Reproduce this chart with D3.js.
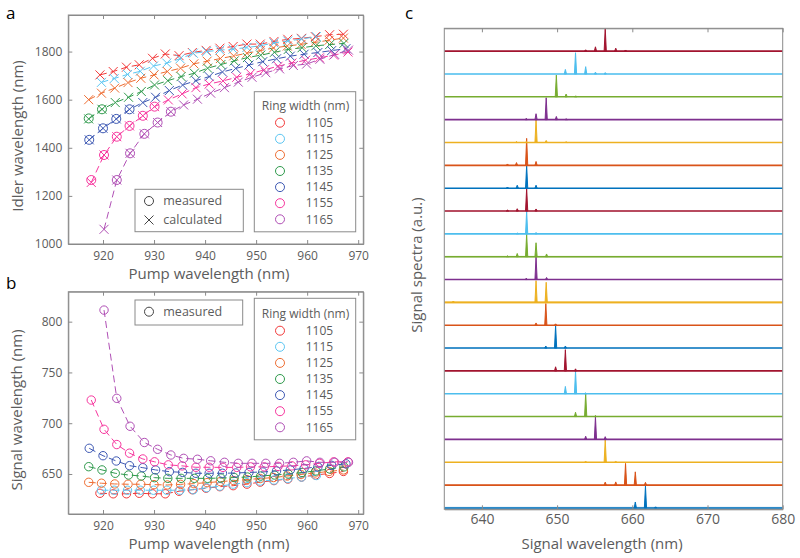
<!DOCTYPE html>
<html><head><meta charset="utf-8">
<script src="https://cdn.jsdelivr.net/npm/d3@7"></script>
<style>body{margin:0;background:#fff} svg{font-family:"Open Sans","Noto Sans",sans-serif;display:block}</style>
</head><body><svg width="800" height="558"></svg>
<script>
// ---------- DATA ----------
const ringWidths = [1105, 1115, 1125, 1135, 1145, 1155, 1165];
const ringColors = ["#f23a3a", "#5cc6f2", "#ee6d32", "#2f9a4c", "#3d58b3", "#f7369e", "#b04fb5"];

const pump1105 = [919.4, 922.0, 924.6, 927.1, 929.7, 932.2, 934.9, 937.5, 940.2, 942.9, 945.5, 948.2, 950.8, 953.5, 956.2, 958.9, 961.6, 964.4, 967.1];
const signal1105 = [631, 630.5, 630.5, 631, 630.5, 630.5, 633, 634.5, 636, 637.5, 638.5, 640, 642, 643.5, 645, 647, 649, 650.5, 652.5];
const idlerCalc1105 = [1703, 1717, 1735, 1745, 1772, 1790, 1783, 1796, 1805, 1814, 1821, 1831, 1831, 1842, 1851, 1855, 1862, 1870, 1872];
const idlerMeas1105 = [];

const pump1115 = [919.7, 922.2, 924.8, 927.3, 929.9, 932.5, 935.1, 937.7, 940.3, 942.9, 945.5, 948.2, 950.8, 953.5, 956.2, 958.9, 961.8];
const signal1115 = [634, 634, 634, 634, 634, 634, 634, 634.5, 636.5, 638, 640, 641.5, 643, 644, 645.5, 647, 648.5];
const idlerCalc1115 = [1672, 1688, 1705, 1718, 1740, 1752, 1770, 1793, 1800, 1806, 1810, 1817, 1824, 1836, 1844, 1852, 1862];
const idlerMeas1115 = [];

const pump1125 = [917.2, 919.7, 922.3, 924.9, 927.4, 930.0, 932.6, 935.2, 937.8, 940.4, 943.0, 945.6, 948.2, 950.8, 953.4, 956.1, 958.8, 961.5, 964.3, 967.1];
const signal1125 = [641.8, 640.9, 640.2, 639.9, 639.9, 639.5, 639.2, 639.8, 640.5, 641.5, 642.5, 643.5, 644.5, 645.5, 646.5, 648, 649.5, 651, 652.5, 654];
const idlerCalc1125 = [1600, 1627, 1648, 1671, 1689, 1703, 1717, 1731, 1749, 1760, 1771, 1782, 1793, 1804, 1815, 1823, 1830, 1838, 1847, 1856];
const idlerMeas1125 = [];

const pump1135 = [917.2, 919.8, 922.4, 925.0, 927.5, 930.1, 932.7, 935.3, 937.9, 940.5, 943.1, 945.7, 948.3, 950.9, 953.6, 956.3, 959.0, 961.7, 964.4, 967.2];
const signal1135 = [657.2, 654, 650.7, 649, 648, 646.4, 645.7, 645.7, 645.7, 645.7, 646, 646.5, 647, 648, 649, 650, 651.5, 653, 655, 657];
const idlerCalc1135 = [1520, 1560, 1588, 1610, 1634, 1661, 1679, 1696, 1710, 1731, 1746, 1761, 1775, 1785, 1797, 1809, 1816, 1824, 1829, 1834];
const idlerMeas1135 = [1522, 1560];

const pump1145 = [917.3, 920.0, 922.6, 925.2, 927.8, 930.3, 933.0, 935.6, 938.2, 940.8, 943.4, 946.0, 948.6, 951.3, 954.0, 956.7, 959.4, 962.1, 964.8, 967.6];
const signal1145 = [675.3, 668, 662.8, 658.2, 656.2, 654, 652.3, 651.6, 650.7, 650.7, 650.7, 651, 651.5, 652, 653, 654, 655.5, 657, 658.5, 660];
const idlerCalc1145 = [1433, 1481, 1520, 1560, 1588, 1610, 1638, 1661, 1679, 1696, 1715, 1730, 1744, 1758, 1770, 1781, 1789, 1796, 1804, 1812];
const idlerMeas1145 = [1433, 1481, 1520, 1560];

const pump1155 = [917.7, 920.2, 922.7, 925.2, 927.8, 930.1, 932.8, 935.5, 938.2, 940.8, 943.5, 946.2, 948.9, 951.6, 954.3, 957.0, 959.7, 962.4, 965.2, 968.0];
const signal1155 = [722.8, 694, 679, 670.5, 664.8, 662, 659, 658, 656.6, 656.6, 656.5, 656.5, 657, 657, 657.5, 658, 659, 660.5, 662, 662];
const idlerCalc1155 = [1256, 1370, 1446, 1491, 1533, 1571, 1599, 1624, 1650, 1665, 1678, 1693, 1708, 1724, 1739, 1752, 1764, 1774, 1785, 1798];
const idlerMeas1155 = [1266, 1370, 1446, 1491, 1533, 1571];

const pump1165 = [920.2, 922.7, 925.3, 928.1, 930.7, 933.3, 935.8, 938.5, 941.1, 943.8, 946.5, 949.2, 951.9, 954.6, 957.3, 959.9, 962.5, 965.4, 968.1];
const signal1165 = [811.4, 724.5, 697, 681, 674.3, 668.7, 665.4, 664.5, 663, 661.5, 660.5, 660.5, 660.5, 660.5, 661.5, 662.9, 661.5, 661.5, 661.5];
const idlerCalc1165 = [1061, 1266, 1377, 1458, 1505, 1550, 1578, 1602, 1627, 1650, 1673, 1693, 1712, 1728, 1742, 1748, 1768, 1788, 1806];
const idlerMeas1165 = [null, 1266, 1377, 1458, 1505, 1550];

const pumpTicks = [920, 930, 940, 950, 960, 970];
const idlerTicks = [1000, 1200, 1400, 1600, 1800];
const signalTicks = [650, 700, 750, 800];
const spectraTicks = [640, 650, 660, 670, 680];

// panel c: spectra, index 0 = bottom trace
const spectraColors = ["#0072BD", "#D95319", "#EDB120", "#7E2F8E", "#77AC30", "#4DBEEE", "#A2142F"];
const tracePeakWl = [
  [661.75, 660.4, 663.1],
  [659.1, 660.4, 656.4, 657.8, 661.75],
  [656.4, 653.8, 657.8],
  [655.1, 653.8, 656.4],
  [653.8, 652.45, 655.1],
  [652.45, 651.1, 653.8],
  [651.1, 649.8, 652.45],
  [649.8, 648.5, 651.1],
  [648.5, 647.2, 649.8],
  [647.2, 648.55, 636.2],
  [647.2, 645.9, 648.6],
  [645.95, 647.2, 644.7, 648.6, 643.4],
  [645.95, 644.7, 647.2],
  [645.95, 644.7, 647.2, 643.4],
  [645.95, 644.7, 647.2, 643.4],
  [645.95, 644.6, 647.2, 643.4],
  [647.2, 648.55, 645.9, 644.6, 651.2],
  [648.55, 647.2, 649.9, 645.9, 651.2],
  [649.9, 651.2, 652.5],
  [652.45, 651.1, 653.8, 655.1, 656.4],
  [656.4, 655.1, 657.8, 653.8, 659.1]
];
const tracePeakHt = [
  [0.96, 0.26, 0.05],
  [0.95, 0.58, 0.13, 0.14, 0.12],
  [0.98, 0.03, 0.03],
  [0.99, 0.14, 0.12],
  [1.02, 0.19, 0.05],
  [1.0, 0.32, 0.04],
  [0.93, 0.18, 0.09],
  [0.98, 0.09, 0.09],
  [0.95, 0.1, 0.06],
  [0.95, 0.88, 0.06],
  [0.99, 0.06, 0.09],
  [0.99, 0.61, 0.14, 0.12, 0.04],
  [1.0, 0.04, 0.06],
  [0.99, 0.1, 0.09, 0.04],
  [0.99, 0.13, 0.13, 0.05],
  [1.18, 0.12, 0.17, 0.06],
  [0.99, 0.09, 0.04, 0.04, 0.03],
  [0.96, 0.26, 0.14, 0.06, 0.04],
  [0.95, 0.12, 0.04],
  [0.93, 0.2, 0.32, 0.08, 0.06],
  [1.0, 0.19, 0.13, 0.06, 0.05]
];
const traceNoise = [0.05, 0.02, 0.01, 0.01, 0.01, 0.01, 0.01, 0.01, 0.01, 0.06, 0.01, 0.04, 0.01, 0.01, 0.01, 0.01, 0.01, 0.01, 0.01, 0.01, 0.01];

// ---------- BUILD ----------
const seriesTable = ringWidths.map((w, k) => ({
  w, color: ringColors[k],
  pump: [pump1105, pump1115, pump1125, pump1135, pump1145, pump1155, pump1165][k],
  signal: [signal1105, signal1115, signal1125, signal1135, signal1145, signal1155, signal1165][k],
  idler: [idlerCalc1105, idlerCalc1115, idlerCalc1125, idlerCalc1135, idlerCalc1145, idlerCalc1155, idlerCalc1165][k],
  meas: [idlerMeas1105, idlerMeas1115, idlerMeas1125, idlerMeas1135, idlerMeas1145, idlerMeas1155, idlerMeas1165][k]
}));

const AX = "#8a8a8a", TX = "#5c5c5c";
const svg = d3.select("svg");
svg.append("rect").attr("width", 800).attr("height", 558).attr("fill", "#fff");

const pA = {x0: 68.3, x1: 363.3, y0: 15, y1: 244};
const pB = {x0: 68.3, x1: 363.3, y0: 291.7, y1: 514};
const pC = {x0: 444.3, x1: 782.7, y0: 28.3, y1: 509.3};

const xA = d3.scaleLinear([913.2, 971], [pA.x0, pA.x1]);
const yA = d3.scaleLinear([1000, 1952], [pA.y1, pA.y0]);
const xB = d3.scaleLinear([913.2, 971], [pB.x0, pB.x1]);
const yB = d3.scaleLinear([610.6, 829.5], [pB.y1, pB.y0]);
const xC = d3.scaleLinear([635, 680], [pC.x0, pC.x1]);
const yC = d3.scaleLinear([-0.06, 21], [pC.y1, pC.y0]);

const fmt = d3.format("d");
function styleAxis(g, fs) {
  g.selectAll("path.domain").attr("stroke", AX);
  g.selectAll(".tick line").attr("stroke", AX);
  g.selectAll(".tick text").attr("fill", TX).style("font-size", fs + "px").style("font-family", "'Open Sans'");
}
function frame(p, x, y, xt, yt, fs, pad) {
  const g = svg.append("g");
  const b = g.append("g").attr("transform", `translate(0,${p.y1})`)
    .call(d3.axisBottom(x).tickValues(xt).tickFormat(fmt).tickSize(-4).tickSizeOuter(0).tickPadding(pad));
  styleAxis(b, fs);
  const t = g.append("g").attr("transform", `translate(0,${p.y0})`)
    .call(d3.axisTop(x).tickValues(xt).tickSize(-4).tickSizeOuter(0).tickFormat(""));
  styleAxis(t, fs);
  if (yt) {
    const l = g.append("g").attr("transform", `translate(${p.x0},0)`)
      .call(d3.axisLeft(y).tickValues(yt).tickFormat(fmt).tickSize(-4).tickSizeOuter(0).tickPadding(6));
    styleAxis(l, fs);
    const r = g.append("g").attr("transform", `translate(${p.x1},0)`)
      .call(d3.axisRight(y).tickValues(yt).tickSize(-4).tickSizeOuter(0).tickFormat(""));
    styleAxis(r, fs);
  }
  g.append("rect").attr("x", p.x0).attr("y", p.y0).attr("width", p.x1 - p.x0).attr("height", p.y1 - p.y0)
    .attr("fill", "none").attr("stroke", AX).attr("stroke-width", 1);
  return g;
}
function label(txt, x, y, rot, fs) {
  svg.append("text").attr("transform", `translate(${x},${y})` + (rot ? " rotate(-90)" : ""))
    .attr("text-anchor", "middle").attr("dy", rot ? "0.35em" : null)
    .attr("fill", TX).style("font-size", fs + "px").text(txt);
}
const cross = "M-4.5,-4.5L4.5,4.5M-4.5,4.5L4.5,-4.5";

const defs = svg.append("defs");
[["clipA", pA], ["clipB", pB], ["clipC", pC]].forEach(([id, p]) => {
  defs.append("clipPath").attr("id", id).append("rect")
    .attr("x", p.x0).attr("y", p.y0).attr("width", p.x1 - p.x0).attr("height", p.y1 - p.y0);
});

// ---------- PANEL A ----------
frame(pA, xA, yA, pumpTicks, idlerTicks, 12, 7.5);
const gA = svg.append("g").attr("clip-path", "url(#clipA)");
seriesTable.forEach(s => {
  const pts = s.pump.map((p, i) => ({p, v: s.idler[i]}));
  gA.append("path").datum(pts)
    .attr("d", d3.line().x(d => xA(d.p)).y(d => yA(d.v)))
    .attr("fill", "none").attr("stroke", s.color).attr("stroke-width", 1).attr("stroke-dasharray", "7,4");
  gA.selectAll(null).data(pts).enter().append("path")
    .attr("transform", d => `translate(${xA(d.p)},${yA(d.v)})`)
    .attr("d", cross).attr("stroke", s.color).attr("stroke-width", 1).attr("fill", "none");
  const mp = s.meas.map((v, i) => ({p: s.pump[i], v})).filter(d => d.v != null);
  gA.selectAll(null).data(mp).enter().append("circle")
    .attr("cx", d => xA(d.p)).attr("cy", d => yA(d.v)).attr("r", 4.5)
    .attr("fill", "none").attr("stroke", s.color).attr("stroke-width", 1);
});
label("Idler wavelength (nm)", 18, 136, true, 15);
label("Pump wavelength (nm)", 209, 279, false, 15);

// ---------- PANEL B ----------
frame(pB, xB, yB, pumpTicks, signalTicks, 12, 7.5);
const gB = svg.append("g").attr("clip-path", "url(#clipB)");
seriesTable.forEach(s => {
  const pts = s.pump.map((p, i) => ({p, v: s.signal[i]}));
  gB.append("path").datum(pts)
    .attr("d", d3.line().x(d => xB(d.p)).y(d => yB(d.v)))
    .attr("fill", "none").attr("stroke", s.color).attr("stroke-width", 1).attr("stroke-dasharray", "7,4");
  gB.selectAll(null).data(pts).enter().append("circle")
    .attr("cx", d => xB(d.p)).attr("cy", d => yB(d.v)).attr("r", 4.2)
    .attr("fill", "none").attr("stroke", s.color).attr("stroke-width", 1);
});
label("Signal wavelength (nm)", 17, 410, true, 15);
label("Pump wavelength (nm)", 209, 549, false, 15);

// legends
function legendBox(x, y, w, h) {
  svg.append("rect").attr("x", x).attr("y", y).attr("width", w).attr("height", h)
    .attr("fill", "#fff").attr("stroke", AX).attr("stroke-width", 1);
}
function ringLegend(top, rowsY0) {
  legendBox(254.3, top, 101.4, rowsY0 + 6 * 16.1 + 12.5 - top);
  svg.append("text").attr("x", 305.5).attr("y", rowsY0 - 16.6 + 4).attr("text-anchor", "middle")
    .attr("fill", TX).style("font-size", "12px").text("Ring width (nm)");
  seriesTable.forEach((s, k) => {
    const yy = rowsY0 + k * 16.1;
    svg.append("circle").attr("cx", 280).attr("cy", yy).attr("r", 4.5)
      .attr("fill", "none").attr("stroke", s.color).attr("stroke-width", 1);
    svg.append("text").attr("x", 305.7).attr("y", yy + 4.2).attr("fill", TX)
      .style("font-size", "12px").text(s.w);
  });
}
legendBox(135, 189.3, 108.3, 42.4);
svg.append("circle").attr("cx", 149).attr("cy", 201).attr("r", 4.5).attr("fill", "none").attr("stroke", "#444").attr("stroke-width", 1);
svg.append("text").attr("x", 163.3).attr("y", 205.3).attr("fill", TX).style("font-size", "12.5px").text("measured");
svg.append("path").attr("transform", "translate(149,220)").attr("d", cross).attr("stroke", "#444").attr("stroke-width", 1);
svg.append("text").attr("x", 163.3).attr("y", 224.3).attr("fill", TX).style("font-size", "12.5px").text("calculated");
ringLegend(91.7, 122.7);
legendBox(135, 300, 107.7, 25);
svg.append("circle").attr("cx", 149).attr("cy", 311.7).attr("r", 4.5).attr("fill", "none").attr("stroke", "#444").attr("stroke-width", 1);
svg.append("text").attr("x", 163.3).attr("y", 316).attr("fill", TX).style("font-size", "12.5px").text("measured");
ringLegend(298.3, 330.7);

// ---------- PANEL C ----------
const gC = svg.append("g").attr("clip-path", "url(#clipC)");
const unit = yC(0) - yC(1);
tracePeakWl.forEach((wls, i) => {
  const col = spectraColors[i % spectraColors.length];
  const base = yC(i);
  const nz = traceNoise[i] * unit;
  gC.append("rect").attr("x", xC(635)).attr("y", base - nz).attr("width", xC(680) - xC(635)).attr("height", 2 * nz)
    .attr("fill", col).attr("opacity", 0.3);
  gC.append("line").attr("x1", xC(635)).attr("x2", xC(680)).attr("y1", base).attr("y2", base)
    .attr("stroke", col).attr("stroke-width", 1.6);
  wls.forEach((wl, j) => {
    const px = xC(wl), top = yC(i + tracePeakHt[i][j]);
    gC.append("path").attr("d", `M${px - 1.1},${base}L${px},${top}L${px + 1.1},${base}Z`)
      .attr("fill", col).attr("stroke", col).attr("stroke-width", 1).attr("stroke-linejoin", "round");
  });
});
frame(pC, xC, yC, spectraTicks, null, 14, 5);
label("Signal  spectra (a.u.)", 417, 265, true, 15);
label("Signal wavelength (nm)", 602, 549, false, 15);

// panel letters
[["a", 6, 19], ["b", 6, 289], ["c", 405, 19]].forEach(([t, x, y]) => {
  svg.append("text").attr("x", x).attr("y", y).attr("fill", "#000").style("font-size", "17px").text(t);
});
</script></body></html>
